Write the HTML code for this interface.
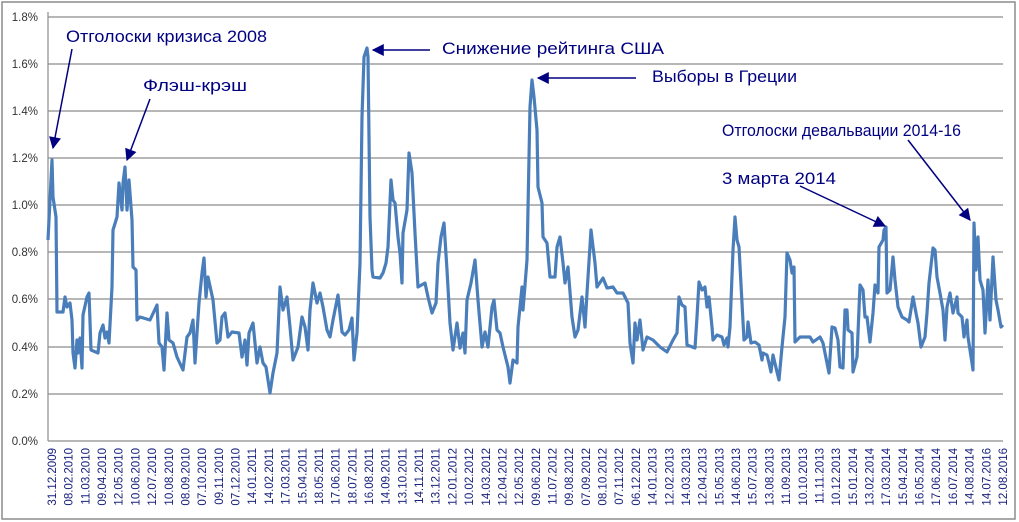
<!DOCTYPE html>
<html><head><meta charset="utf-8"><style>
html,body{margin:0;padding:0;background:#fff}
svg{display:block;font-family:"Liberation Sans","DejaVu Sans",sans-serif}
</style></head><body>
<svg width="1019" height="522" viewBox="0 0 1019 522" xmlns="http://www.w3.org/2000/svg">
<defs>
<marker id="ah2" viewBox="0 0 10 10" refX="9" refY="5" markerWidth="16" markerHeight="12" orient="auto" markerUnits="userSpaceOnUse"><path d="M0,0 L10,5 L0,10 z" fill="#000080"/></marker></defs>
<rect x="2" y="2" width="1013" height="517" fill="#fff" stroke="#8c8c8c" stroke-width="1.5"/>
<g stroke="#8c8c8c" stroke-width="1.2">
<line x1="48" y1="17" x2="1003" y2="17"/><line x1="48" y1="64" x2="1003" y2="64"/><line x1="48" y1="111" x2="1003" y2="111"/><line x1="48" y1="158" x2="1003" y2="158"/><line x1="48" y1="205" x2="1003" y2="205"/><line x1="48" y1="252" x2="1003" y2="252"/><line x1="48" y1="299" x2="1003" y2="299"/><line x1="48" y1="347" x2="1003" y2="347"/><line x1="48" y1="394" x2="1003" y2="394"/><line x1="48" y1="441" x2="1003" y2="441"/>
<line x1="48" y1="12" x2="48" y2="441"/>
</g>
<g font-size="11.5" fill="#333" text-anchor="end">
<text x="38" y="21">1.8%</text><text x="38" y="68">1.6%</text><text x="38" y="115">1.4%</text><text x="38" y="162">1.2%</text><text x="38" y="209">1.0%</text><text x="38" y="256">0.8%</text><text x="38" y="303">0.6%</text><text x="38" y="351">0.4%</text><text x="38" y="398">0.2%</text><text x="38" y="445">0.0%</text>
</g>
<polyline fill="none" stroke="#4a7ebb" stroke-width="3.2" stroke-linejoin="round" points="
48,240 52,160 53,197 56,217 57,312 63,312 65,297 67,307 70,303 72,320 73,353 75,368 77,340 78,353 80,338 82,368 83,315 87,297 89,293 91,350 98,353 100,333 103,325 105,338 107,332 109,343 112,287 113,230 117,217 119,183 122,210 123,183 125,167 127,210 129,180 132,220 133,267 136,270 137,320 140,317 150,320 157,305 159,343 162,347 164,370 167,313 169,340 173,343 177,357 183,370 187,337 190,333 193,320 195,363 199,303 202,273 204,258 206,297 208,277 213,300 217,343 220,340 222,317 225,313 228,337 232,332 239,333 242,357 245,340 247,365 249,333 253,323 257,363 260,347 263,363 266,367 270,393 273,373 277,353 280,287 283,310 287,297 290,327 293,360 298,347 302,317 305,327 308,350 310,310 313,283 317,303 320,293 323,307 327,330 330,337 333,320 338,295 342,332 345,335 349,330 352,318 354,360 357,333 360,263 362,117 364,57 367,48 368,57 370,217 372,270 373,277 380,278 383,273 386,263 388,247 391,180 393,200 395,203 398,237 400,253 402,283 403,233 407,210 409,153 412,173 415,233 418,287 425,283 428,297 432,313 436,303 438,263 441,237 444,223 447,270 450,323 453,350 457,323 460,348 463,333 465,353 467,300 471,283 475,260 478,300 482,347 485,332 488,347 492,307 494,300 497,330 500,333 503,347 508,367 510,383 513,360 517,363 518,327 522,287 523,310 527,260 530,107 532,80 534,97 537,130 538,187 542,203 543,237 547,243 550,277 555,277 557,247 560,237 563,263 565,283 568,267 572,317 575,337 578,330 582,297 585,327 587,293 591,230 595,263 597,287 603,278 607,288 613,287 617,293 623,293 628,303 630,343 633,363 635,323 637,340 640,320 643,350 647,337 653,340 660,347 667,352 673,340 677,333 679,297 682,305 685,307 687,345 695,348 697,317 699,282 702,290 705,287 707,307 709,297 712,327 713,340 717,335 722,337 724,345 727,338 728,347 730,327 733,250 735,217 737,240 739,247 742,303 744,340 747,337 748,322 751,343 755,342 759,345 762,360 763,353 767,355 769,363 771,372 773,355 777,372 779,380 782,347 785,317 787,253 790,260 792,273 794,267 795,342 800,337 810,337 813,342 820,337 823,343 827,363 829,373 832,327 835,328 838,340 840,367 843,368 845,310 847,310 848,330 852,333 853,372 857,357 860,285 863,290 865,317 867,317 870,342 873,313 875,285 878,293 879,247 883,240 884,230 886,227 887,293 890,290 893,257 895,280 898,307 902,317 907,320 909,322 913,297 916,313 918,323 921,347 925,337 927,313 929,283 933,248 935,250 937,277 940,293 943,310 945,340 947,307 950,293 953,313 957,297 958,313 962,317 964,337 967,320 968,337 972,363 973,370 974,223 976,270 978,237 980,280 983,290 985,333 988,280 990,320 993,257 996,300 998,310 1001,327 1003,325"/>
<g font-size="17" fill="#000080">
<text x="66" y="42" textLength="201" lengthAdjust="spacingAndGlyphs">Отголоски кризиса 2008</text>
<text x="143" y="91" textLength="104" lengthAdjust="spacingAndGlyphs">Флэш-крэш</text>
<text x="442" y="54" textLength="222" lengthAdjust="spacingAndGlyphs">Снижение рейтинга США</text>
<text x="652" y="82" textLength="145" lengthAdjust="spacingAndGlyphs">Выборы в Греции</text>
<text x="722" y="136" textLength="239" lengthAdjust="spacingAndGlyphs">Отголоски девальвации 2014-16</text>
<text x="722" y="184" textLength="114" lengthAdjust="spacingAndGlyphs">3 марта 2014</text>
</g>
<g stroke="#000080" stroke-width="1.5" fill="none">
<line x1="72" y1="49" x2="53" y2="148" marker-end="url(#ah2)"/>
<line x1="150" y1="99" x2="127" y2="160" marker-end="url(#ah2)"/>
<line x1="430" y1="50" x2="373" y2="50" marker-end="url(#ah2)"/>
<line x1="636" y1="78" x2="538" y2="78" marker-end="url(#ah2)"/>
<line x1="908" y1="140" x2="970" y2="220" marker-end="url(#ah2)"/>
<line x1="800" y1="186" x2="885" y2="226" marker-end="url(#ah2)"/>
</g>
<g font-size="11.5" fill="#1a237e" text-anchor="end">
<text transform="translate(56,448) rotate(-90)">31.12.2009</text>
<text transform="translate(72.7,448) rotate(-90)">08.02.2010</text>
<text transform="translate(89.4,448) rotate(-90)">11.03.2010</text>
<text transform="translate(106.1,448) rotate(-90)">09.04.2010</text>
<text transform="translate(122.7,448) rotate(-90)">12.05.2010</text>
<text transform="translate(139.4,448) rotate(-90)">10.06.2010</text>
<text transform="translate(156.1,448) rotate(-90)">12.07.2010</text>
<text transform="translate(172.8,448) rotate(-90)">10.08.2010</text>
<text transform="translate(189.5,448) rotate(-90)">08.09.2010</text>
<text transform="translate(206.2,448) rotate(-90)">07.10.2010</text>
<text transform="translate(222.8,448) rotate(-90)">09.11.2010</text>
<text transform="translate(239.5,448) rotate(-90)">07.12.2010</text>
<text transform="translate(256.2,448) rotate(-90)">14.01.2011</text>
<text transform="translate(272.9,448) rotate(-90)">14.02.2011</text>
<text transform="translate(289.6,448) rotate(-90)">17.03.2011</text>
<text transform="translate(306.3,448) rotate(-90)">15.04.2011</text>
<text transform="translate(322.9,448) rotate(-90)">18.05.2011</text>
<text transform="translate(339.6,448) rotate(-90)">17.06.2011</text>
<text transform="translate(356.3,448) rotate(-90)">18.07.2011</text>
<text transform="translate(373,448) rotate(-90)">16.08.2011</text>
<text transform="translate(389.7,448) rotate(-90)">14.09.2011</text>
<text transform="translate(406.4,448) rotate(-90)">13.10.2011</text>
<text transform="translate(423,448) rotate(-90)">14.11.2011</text>
<text transform="translate(439.7,448) rotate(-90)">13.12.2011</text>
<text transform="translate(456.4,448) rotate(-90)">12.01.2012</text>
<text transform="translate(473.1,448) rotate(-90)">10.02.2012</text>
<text transform="translate(489.8,448) rotate(-90)">14.03.2012</text>
<text transform="translate(506.5,448) rotate(-90)">12.04.2012</text>
<text transform="translate(523.1,448) rotate(-90)">12.05.2012</text>
<text transform="translate(539.8,448) rotate(-90)">09.06.2012</text>
<text transform="translate(556.5,448) rotate(-90)">11.07.2012</text>
<text transform="translate(573.2,448) rotate(-90)">09.08.2012</text>
<text transform="translate(589.9,448) rotate(-90)">07.09.2012</text>
<text transform="translate(606.6,448) rotate(-90)">08.10.2012</text>
<text transform="translate(623.2,448) rotate(-90)">07.11.2012</text>
<text transform="translate(639.9,448) rotate(-90)">06.12.2012</text>
<text transform="translate(656.6,448) rotate(-90)">14.01.2013</text>
<text transform="translate(673.3,448) rotate(-90)">12.02.2013</text>
<text transform="translate(690,448) rotate(-90)">14.03.2013</text>
<text transform="translate(706.7,448) rotate(-90)">12.04.2013</text>
<text transform="translate(723.3,448) rotate(-90)">15.05.2013</text>
<text transform="translate(740,448) rotate(-90)">14.06.2013</text>
<text transform="translate(756.7,448) rotate(-90)">15.07.2013</text>
<text transform="translate(773.4,448) rotate(-90)">13.08.2013</text>
<text transform="translate(790.1,448) rotate(-90)">11.09.2013</text>
<text transform="translate(806.8,448) rotate(-90)">10.10.2013</text>
<text transform="translate(823.4,448) rotate(-90)">11.11.2013</text>
<text transform="translate(840.1,448) rotate(-90)">10.12.2013</text>
<text transform="translate(856.8,448) rotate(-90)">15.01.2014</text>
<text transform="translate(873.5,448) rotate(-90)">13.02.2014</text>
<text transform="translate(890.2,448) rotate(-90)">17.03.2014</text>
<text transform="translate(906.9,448) rotate(-90)">15.04.2014</text>
<text transform="translate(923.5,448) rotate(-90)">16.05.2014</text>
<text transform="translate(940.2,448) rotate(-90)">17.06.2014</text>
<text transform="translate(956.9,448) rotate(-90)">16.07.2014</text>
<text transform="translate(973.6,448) rotate(-90)">14.08.2014</text>
<text transform="translate(990.3,448) rotate(-90)">14.07.2016</text>
<text transform="translate(1007,448) rotate(-90)">12.08.2016</text>
</g>
</svg>
</body></html>
